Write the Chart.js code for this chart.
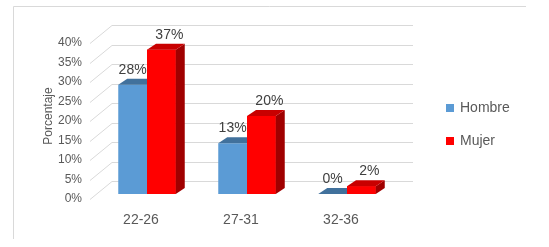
<!DOCTYPE html>
<html lang="es">
<head>
<meta charset="UTF-8">
<title>Porcentaje por edad y sexo</title>
<script src="https://cdn.jsdelivr.net/npm/chart.js"></script>
<style>
  html, body { margin: 0; padding: 0; background: #fff; }
</style>
</head>
<body>
<canvas id="chart" width="549" height="247"></canvas>
<script>
// data
const categories = ['22-26', '27-31', '32-36'];
const hombre = [28, 13, 0];
const mujer = [37, 20, 2];
const yTicks = [0, 5, 10, 15, 20, 25, 30, 35, 40];

// 3d look (depth offsets and face colours)
const DX = 9, DY = 6;
const frontColors = ['#5b9bd5', '#ff0000'];
const topColors = ['#41719c', '#c80000'];
const sideColors = ['#335f8a', '#a00000'];
const labelShift = [0, 8];
const gridColor = '#d9d9d9';
const textGray = '#595959';
const FONT = '"Liberation Sans", Arial, sans-serif';

function face(ctx, pts, color) {
    ctx.fillStyle = color;
    ctx.beginPath();
    ctx.moveTo(pts[0][0], pts[0][1]);
    for (let k = 1; k < pts.length; k++) ctx.lineTo(pts[k][0], pts[k][1]);
    ctx.closePath();
    ctx.fill();
}

const bars3d = {
    id: 'bars3d',
    beforeDraw(chart) {
        const ctx = chart.ctx;
        ctx.save();
        ctx.strokeStyle = gridColor;
        ctx.lineWidth = 1;
        ctx.beginPath();
        ctx.moveTo(13.5, 239);
        ctx.lineTo(13.5, 6.5);
        ctx.lineTo(526, 6.5);
        ctx.stroke();
        ctx.restore();
    },
    beforeDatasetsDraw(chart) {
        const {ctx, chartArea, scales} = chart;
        ctx.save();
        ctx.strokeStyle = gridColor;
        ctx.lineWidth = 1;
        yTicks.forEach(v => {
            const py = Math.round(scales.y.getPixelForValue(v)) + 0.5;
            ctx.beginPath();
            ctx.moveTo(chartArea.left - 7, py + 5);
            ctx.lineTo(chartArea.left + 15, py - 13);
            ctx.lineTo(chartArea.right + 16, py - 13);
            ctx.stroke();
        });
        ctx.restore();
    },
    afterDatasetsDraw(chart) {
        const ctx = chart.ctx;
        ctx.save();
        chart.data.datasets.forEach((ds, i) => {
            chart.getDatasetMeta(i).data.forEach(bar => {
                if (i > 0) bar.draw(ctx);
                const {x, y, base, width} = bar.getProps(['x', 'y', 'base', 'width'], true);
                const l = x - width / 2, r = x + width / 2;
                face(ctx, [[r, y], [r + DX, y - DY], [r + DX, base - DY], [r, base]], sideColors[i]);
                face(ctx, [[l, y], [l + DX, y - DY], [r + DX, y - DY], [r, y]], topColors[i]);
            });
        });
        ctx.restore();
    },
    afterDraw(chart) {
        const ctx = chart.ctx;
        ctx.save();
        // value labels
        ctx.font = '14px ' + FONT;
        ctx.fillStyle = '#404040';
        ctx.textAlign = 'center';
        ctx.textBaseline = 'middle';
        chart.data.datasets.forEach((ds, i) => {
            chart.getDatasetMeta(i).data.forEach((bar, j) => {
                ctx.fillText(ds.data[j] + '%', bar.x + labelShift[i], bar.y - 15);
            });
        });
        // legend
        ctx.textAlign = 'left';
        ctx.fillStyle = textGray;
        chart.data.datasets.forEach((ds, i) => {
            const cy = 108 + i * 33;
            ctx.fillStyle = frontColors[i];
            ctx.fillRect(446, cy - 4, 8, 8);
            ctx.fillStyle = textGray;
            ctx.fillText(ds.label, 460, cy);
        });
        ctx.restore();
    }
};

new Chart(document.getElementById('chart'), {
    type: 'bar',
    data: {
        labels: categories,
        datasets: [
            { label: 'Hombre', data: hombre, backgroundColor: frontColors[0] },
            { label: 'Mujer', data: mujer, backgroundColor: frontColors[1] }
        ]
    },
    options: {
        responsive: false,
        animation: false,
        events: [],
        layout: { padding: { left: 37, top: 38, right: 152, bottom: 13 } },
        datasets: { bar: { categoryPercentage: 0.575, barPercentage: 1 } },
        plugins: {
            legend: { display: false },
            tooltip: { enabled: false }
        },
        scales: {
            x: {
                grid: { display: false, drawTicks: false },
                border: { display: false },
                ticks: { color: textGray, font: { family: FONT, size: 14 }, padding: 18, labelOffset: -6 },
                afterFit(scale) { scale.height = 40; }
            },
            y: {
                min: 0,
                max: 40,
                grid: { display: false, drawTicks: false },
                border: { display: false },
                ticks: {
                    stepSize: 5,
                    color: textGray,
                    font: { family: FONT, size: 12 },
                    padding: 15,
                    labelOffset: 5,
                    callback: v => v + '%'
                },
                title: {
                    display: true,
                    text: 'Porcentaje',
                    color: textGray,
                    font: { family: FONT, size: 12 },
                    padding: { top: 4, bottom: 0 }
                },
                afterFit(scale) { scale.width = 60; }
            }
        }
    },
    plugins: [bars3d]
});
</script>
</body>
</html>
